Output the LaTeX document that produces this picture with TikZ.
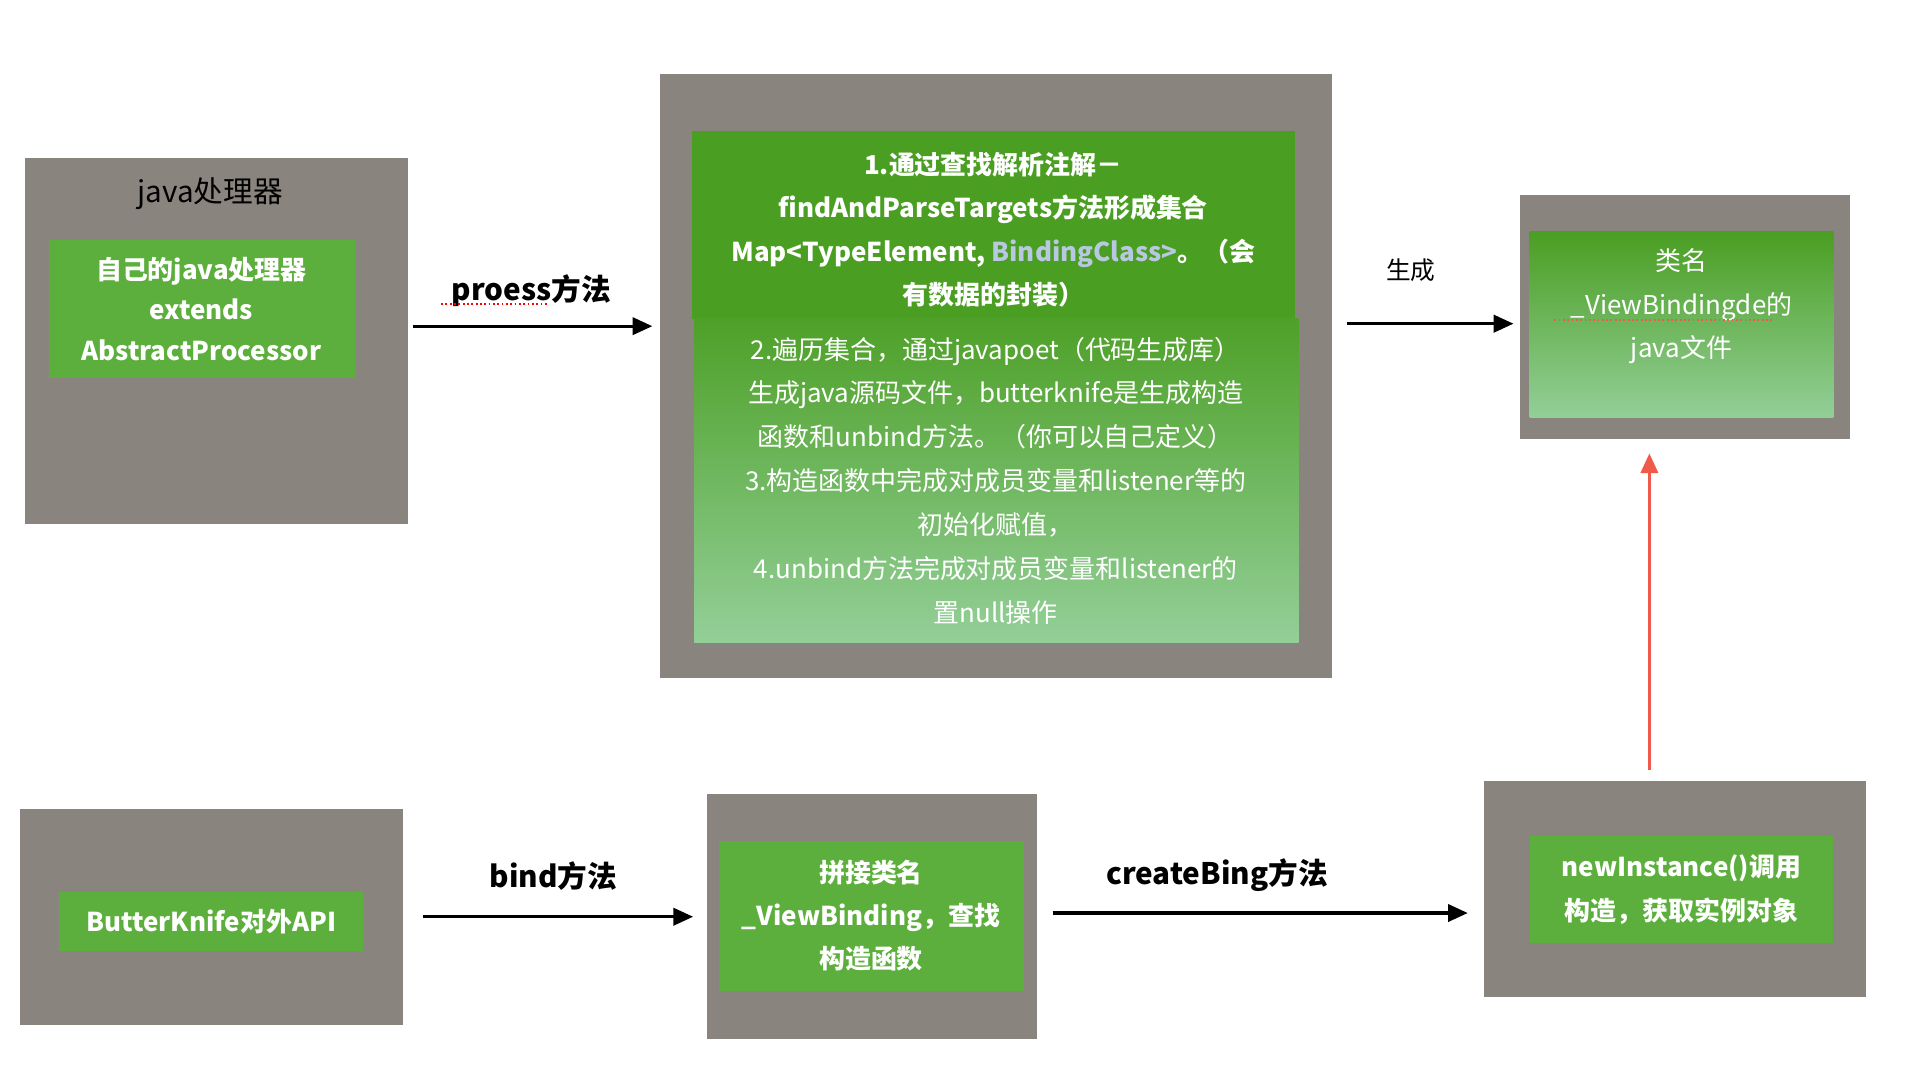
\documentclass[tikz,border=0pt]{standalone}
\usepackage{fontspec}
\setmainfont{Noto Sans CJK SC}
\usetikzlibrary{arrows.meta}
\definecolor{gbox}{HTML}{8A847E}
\definecolor{gr}{HTML}{5CAF3C}
\definecolor{gdark}{HTML}{4A9E22}
\definecolor{glight}{HTML}{93CF98}
\definecolor{redar}{HTML}{F05A4A}
\definecolor{bcls}{HTML}{B8C8E0}
\tikzset{
 outer/.style={fill=gbox,draw=none},
 inner/.style={fill=gr,draw=none},
 wt/.style={text=white,align=center,font=\fontsize{21}{35}\selectfont},
 lab/.style={font=\fontsize{24}{28}\selectfont},
 arr/.style={line width=2.5pt,-{Triangle[length=16pt,width=14pt]}},
}
\begin{document}
\begin{tikzpicture}[x=1pt,y=-1pt]
\useasboundingbox (0,0) rectangle (1550,869);
\fill[white] (0,0) rectangle (1550,869);
% A
\fill[outer] (20,128) rectangle (330,424);
\node (at) at (170,157) [font=\fontsize{24}{28}\selectfont] {java处理器};
\fill[inner] (40,194) rectangle (287,306);
\node (a) at (163,250) [wt,font=\bfseries\fontsize{21}{33}\selectfont] {自己的java处理器\\extends\\AbstractProcessor};
% B
\fill[outer] (534,60) rectangle (1078,549);
\fill[gdark] (560,106) rectangle (1048,258);
\shade[top color=gdark!95!glight,bottom color=glight] (562,258) rectangle (1051,520);
\node (b1) at (804,186) [wt,font=\bfseries\fontsize{21}{35}\selectfont] {1.通过查找解析注解－\\findAndParseTargets方法形成集合\\Map<TypeElement, \textcolor{bcls}{BindingClass>}。（会\\有数据的封装）};
\node (b2) at (806,389) [wt,font=\fontsize{21}{35.5}\selectfont] {2.遍历集合，通过javapoet（代码生成库）\\生成java源码文件，butterknife是生成构造\\函数和unbind方法。（你可以自己定义）\\3.构造函数中完成对成员变量和listener等的\\初始化赋值，\\4.unbind方法完成对成员变量和listener的\\置null操作};
\coordinate (bL) at (534,264);
\coordinate (bR) at (1078,262);
% C
\fill[outer] (1230,158) rectangle (1497,355);
\shade[top color=gdark,bottom color=glight] (1238,187) rectangle (1484,338);
\node (c) at (1361,248) [wt,font=\fontsize{21}{35}\selectfont] {类名\\\_ViewBindingde的\\java文件};
\draw[redar,dotted,line width=1.5pt] (1258,259) -- (1436,259);
% D
\fill[outer] (16,655) rectangle (326,830);
\fill[inner] (48,722) rectangle (294,770);
\node (d) at (171,746) [wt,font=\bfseries\fontsize{21}{28}\selectfont] {ButterKnife对外API};
% E
\fill[outer] (572,643) rectangle (839,841);
\fill[inner] (582,681) rectangle (829,802);
\node (e) at (705,741) [wt,font=\bfseries\fontsize{21}{35}\selectfont] {拼接类名\\\_ViewBinding，查找\\构造函数};
% F
\fill[outer] (1201,632) rectangle (1510,807);
\fill[inner] (1238,677) rectangle (1484,763);
\node (f) at (1361,720) [wt,font=\bfseries\fontsize{21}{35}\selectfont] {newInstance()调用\\构造，获取实例对象};
% arrows
\coordinate (p1) at (334,264); \coordinate (p2) at (528,264);
\draw[arr] (p1) -- (p2);
\node (l1) at (430,235) [lab,font=\bfseries\fontsize{24}{28}\selectfont] {proess方法};
\draw[red,dotted,line width=1.5pt] (357,246) -- (443,246);
\coordinate (q1) at (1090,262); \coordinate (q2) at (1225,262);
\draw[arr] (q1) -- (q2);
\node (l2) at (1142,219) [font=\fontsize{20}{24}\selectfont] {生成};
\coordinate (r1) at (1335,623); \coordinate (r2) at (1335,367);
\draw[arr,redar,line width=2.5pt] (r1) -- (r2);
\coordinate (s1) at (342,742); \coordinate (s2) at (561,742);
\draw[arr] (s1) -- (s2);
\node (l3) at (448,709) [font=\bfseries\fontsize{24}{28}\selectfont] {bind方法};
\coordinate (t1) at (852,739); \coordinate (t2) at (1188,739);
\draw[arr] (t1) -- (t2);
\node (l4) at (985,708) [font=\bfseries\fontsize{24}{28}\selectfont] {createBing方法};
\end{tikzpicture}
\end{document}
